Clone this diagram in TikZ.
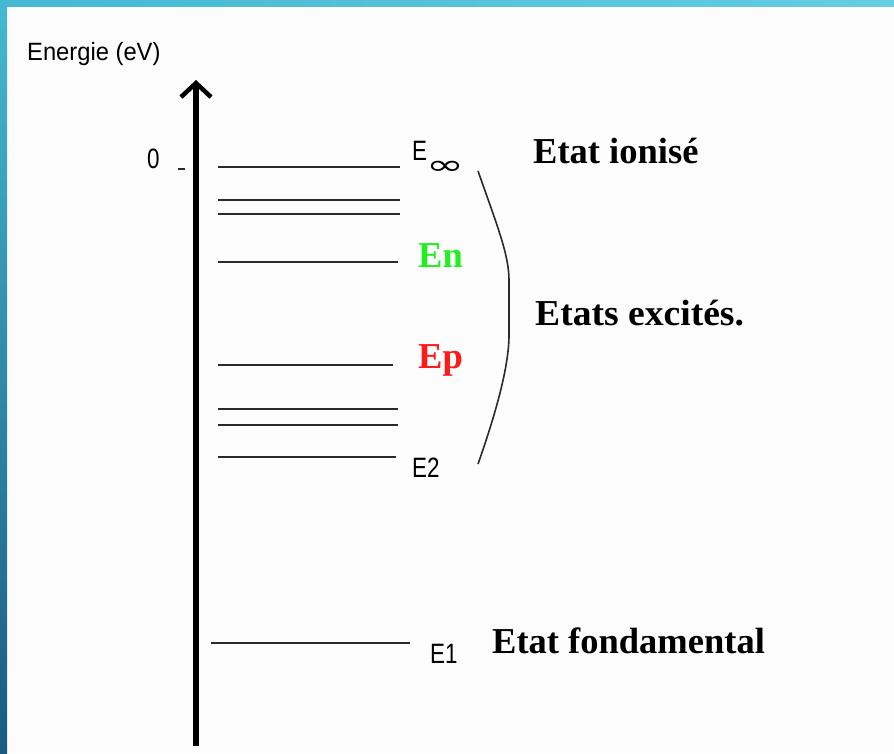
\documentclass[tikz,border=0pt]{standalone}
\usepackage{fontspec}
\usepackage{graphicx}
\setmainfont{Liberation Serif}
\newfontfamily\lblfont{Liberation Sans}
\newfontfamily\symfont{DejaVu Sans}
\usetikzlibrary{arrows.meta}
\definecolor{barA}{HTML}{45B8D2}
\definecolor{barB}{HTML}{64CEE2}
\definecolor{barC}{HTML}{1B5A80}
\definecolor{lvl}{HTML}{2A2A2A}
\definecolor{enGreen}{HTML}{22EE22}
\definecolor{epRed}{HTML}{FF1A1A}
\begin{document}
\begin{tikzpicture}[x=1pt,y=-1pt,
  level/.style={draw=lvl, line width=2pt},
  smalllbl/.style={inner sep=0pt, anchor=base west, font=\lblfont\fontsize{28}{28}\selectfont},
  biglbl/.style={inner sep=0pt, anchor=base west, font=\bfseries\fontsize{36.5}{36.5}\selectfont},
  axisarrow/.style={line width=6pt, -{Straight Barb[length=14pt,width=30pt,line width=4.5pt]}}
]
\useasboundingbox (0,0) rectangle (894,753);
\fill[white!99!black] (0,0) rectangle (894,753);
% border bars
\shade[left color=barA, right color=barB] (0,0) rectangle (894,6);
\shade[top color=barA, bottom color=barC] (0,0) rectangle (7,753);

% axis
\coordinate (axbot) at (196,746);
\coordinate (axtop) at (196,80);
\draw[axisarrow] (axbot) -- (axtop);
\node[inner sep=0pt, anchor=base west, font=\lblfont\fontsize{25}{25}\selectfont] (ylabel) at (27,60) {\scalebox{0.95}[1]{Energie (eV)}};
\node[smalllbl] (zero) at (147,168) {\scalebox{0.8}[1]{0}};
\coordinate (tickA) at (178,169);
\coordinate (tickB) at (185,169);
\draw[line width=1.6pt, draw=lvl] (tickA) -- (tickB);

% levels
\foreach \name/\y/\xe in {Linf/167/400, La/200/400, Lb/214/400, Ln/262/398, Lp/365/393, Lc/409/398, Ld/425/398, L2/457/396, L1/643/410}{
  \coordinate (\name s) at (218,\y);
  \coordinate (\name e) at (\xe,\y);
}
\coordinate (L1s) at (211,643);
\foreach \name in {Linf, La, Lb, Ln, Lp, Lc, Ld, L2, L1}{
  \draw[level] (\name s) -- (\name e);
}

% level labels
\node[smalllbl] (Einf) at (412,160) {\scalebox{0.8}[1]{E}};
\node[inner sep=0pt, anchor=base west, font=\symfont\fontsize{26}{26}\selectfont] (infsub) at (426,174) {\scalebox{1.75}[1.05]{∞}};
\node[biglbl, text=enGreen] (En) at (418,267) {En};
\node[biglbl, text=epRed] (Ep) at (418,368) {Ep};
\node[smalllbl] (E2) at (412,477) {\scalebox{0.8}[1]{E2}};
\node[smalllbl] (E1) at (430,663) {\scalebox{0.8}[1]{E1}};

% brace
\coordinate (brTop) at (478,171);
\coordinate (brM1) at (509,280);
\coordinate (brM2) at (509,335);
\coordinate (brBot) at (478,464);
\draw[line width=1.6pt, draw=lvl] (brTop) .. controls (497,225) and (509,255) .. (brM1) -- (brM2) .. controls (509,365) and (497,410) .. (brBot);

% state labels
\node[biglbl] (ionise) at (533,163) {Etat ionisé};
\node[biglbl] (excites) at (535,325) {\scalebox{1.03}[1]{Etats excités.}};
\node[biglbl] (fond) at (492,653) {Etat fondamental};
\end{tikzpicture}
\end{document}
